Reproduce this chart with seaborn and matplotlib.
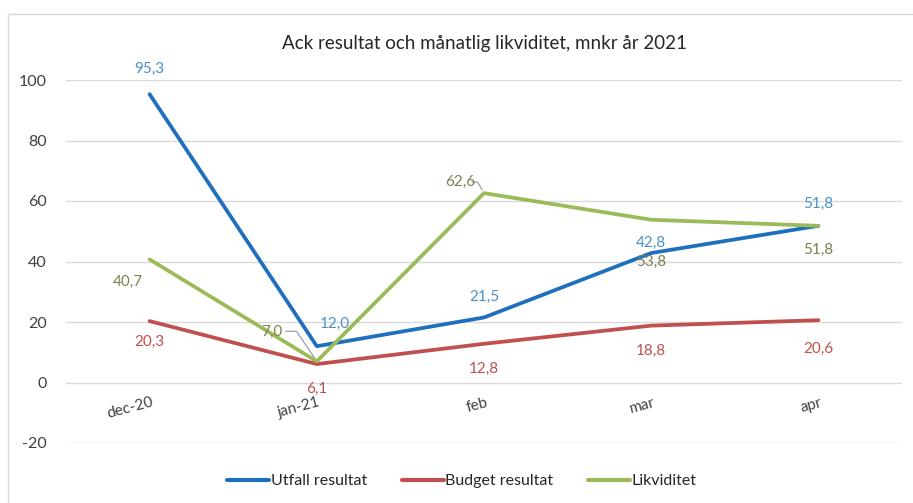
import pandas as pd
import matplotlib.pyplot as plt
import matplotlib.lines as mlines
import seaborn as sns

# --- DATA ---
MONTHS = ["dec-20", "jan-21", "feb", "mar", "apr"]
UTFALL = [95.3, 12.0, 21.5, 42.8, 51.8]
BUDGET = [20.3, 6.1, 12.8, 18.8, 20.6]
LIKVIDITET = [40.7, 7.0, 62.6, 53.8, 51.8]
SERIES = ["Utfall resultat", "Budget resultat", "Likviditet"]

LINE_COLORS = ["#1f6fbf", "#c0504d", "#9bbb59"]
LABEL_COLORS = ["#4a90c8", "#c0504d", "#7d7f4c"]

# long format for seaborn
rows = []
for name, vals in zip(SERIES, [UTFALL, BUDGET, LIKVIDITET]):
    for i, v in enumerate(vals):
        rows.append({"x": i, "value": v, "serie": name})
df = pd.DataFrame(rows)

sns.set_theme(style="white")
plt.rcParams["font.family"] = ["Lato", "DejaVu Sans"]
plt.rcParams["axes.unicode_minus"] = False

fig = plt.figure(figsize=(9.13, 5.03), dpi=100)
ax = fig.add_axes([66 / 913, 1 - 443 / 503, 836 / 913, 363 / 503])

sns.lineplot(data=df, x="x", y="value", hue="serie", hue_order=SERIES,
             palette=LINE_COLORS, linewidth=2.7, ax=ax, legend=False,
             zorder=3)

ax.set_xlim(-0.5, 4.5)
ax.set_ylim(-20, 100)
ax.set_yticks(range(-20, 101, 20))
ax.yaxis.grid(True, color="#d9d9d9", linewidth=1)
ax.set_xticks([])
ax.set_xlabel("")
ax.set_ylabel("")
ax.tick_params(axis="y", length=0, labelsize=11.5, labelcolor="#404040", pad=14)
for s in ax.spines.values():
    s.set_visible(False)

# category labels, rotated like the Excel axis
for i, m in enumerate(MONTHS):
    ax.text(i + 0.02, -6.5, m, rotation=15, rotation_mode="anchor",
            ha="right", va="center", fontsize=11, color="#404040")

# data labels (offsets in pixels)
offsets = {
    0: [(0, 25), (18, 22), (0, 21), (0, 10), (0, 22)],
    1: [(0, -21), (0, -25), (0, -25), (0, -25), (0, -29)],
    2: [(-22, -23), (-45, 29), (-24, 11), (0, -42), (0, -24)],
}
for k, vals in enumerate([UTFALL, BUDGET, LIKVIDITET]):
    for i, v in enumerate(vals):
        dx, dy = offsets[k][i]
        label = f"{v:.1f}".replace(".", ",")
        ax.annotate(label, (i, v), xytext=(dx, dy), textcoords="offset pixels",
                    ha="center", va="center", fontsize=11,
                    color=LABEL_COLORS[k], zorder=5)

# leader lines for two green labels
ax.annotate("", (1, LIKVIDITET[1]), xytext=(-31, 30), textcoords="offset pixels",
            arrowprops=dict(arrowstyle="-", color="#a6a6a6", lw=1,
                            connectionstyle="angle,angleA=0,angleB=124,rad=0",
                            shrinkA=0, shrinkB=3))
ax.annotate("", (2, LIKVIDITET[2]), xytext=(-12, 11), textcoords="offset pixels",
            arrowprops=dict(arrowstyle="-", color="#a6a6a6", lw=1,
                            connectionstyle="angle,angleA=0,angleB=120,rad=0",
                            shrinkA=0, shrinkB=3))

ax.set_title("Ack resultat och månatlig likviditet, mnkr år 2021",
             fontsize=13.5, color="#262626", pad=22)

handles = [mlines.Line2D([], [], color=c, lw=3) for c in LINE_COLORS]
fig.legend(handles, SERIES, loc="center", bbox_to_anchor=(462 / 913, 1 - 481 / 503),
           ncol=3, frameon=False, fontsize=11.5, handlelength=2.6,
           handletextpad=0.1, columnspacing=2.2)

# chart area border
fig.add_artist(mlines.Line2D([8 / 913, 1], [1 - 14 / 503, 1 - 14 / 503],
                             transform=fig.transFigure, color="#d9d9d9", lw=1))
fig.add_artist(mlines.Line2D([8 / 913, 8 / 913], [0, 1 - 14 / 503],
                             transform=fig.transFigure, color="#d9d9d9", lw=1))

plt.savefig("out.png", dpi=100)
